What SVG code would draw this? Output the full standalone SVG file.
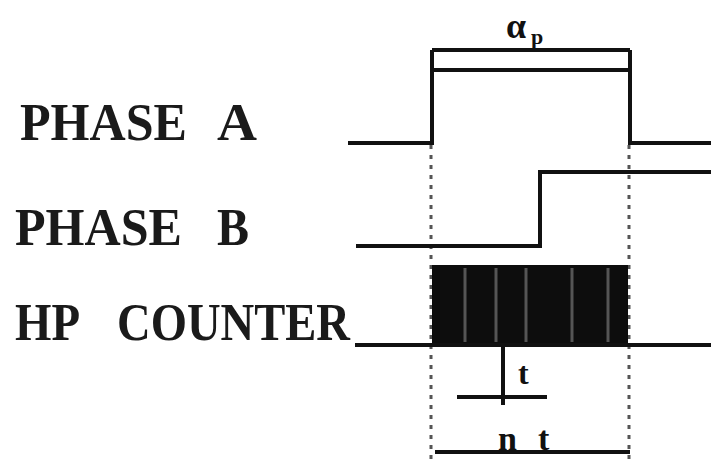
<svg xmlns="http://www.w3.org/2000/svg" width="711" height="464" viewBox="0 0 711 464">
<style>
.lbl{font-family:"Liberation Serif",serif;font-weight:bold;font-size:52px;fill:#1a1a1a}
.sig{fill:none;stroke:#111;stroke-width:4}
.dot{fill:none;stroke:#555;stroke-width:3;stroke-dasharray:4 6}
.sm{font-family:"Liberation Serif",serif;font-weight:bold;fill:#111}
</style>
<rect width="711" height="464" fill="#fff"/>
<g id="label-a"><text class="lbl" x="20" y="140" textLength="167" lengthAdjust="spacingAndGlyphs">PHASE</text><text class="lbl" x="217" y="140" textLength="40" lengthAdjust="spacingAndGlyphs">A</text></g>
<g id="label-b"><text class="lbl" x="15" y="245" textLength="167" lengthAdjust="spacingAndGlyphs">PHASE</text><text class="lbl" x="217" y="245" textLength="32" lengthAdjust="spacingAndGlyphs">B</text></g>
<g id="label-hp"><text class="lbl" x="15" y="340" textLength="65" lengthAdjust="spacingAndGlyphs">HP</text><text class="lbl" x="117" y="340" textLength="233" lengthAdjust="spacingAndGlyphs">COUNTER</text></g>
<g id="connectors">
<path class="dot" d="M431 145V460M629 145V460"/>
<path class="sig" d="M348 143H432V70H630V143H711"/>
<path class="sig" d="M432 50H630M432 50V70M630 50V70"/>
<path class="sig" d="M356 246H540V172H711"/>
<rect x="432" y="265" width="196" height="80" fill="#0d0d0d"/>
<path d="M465 268V342M496 268V342M526 268V342M572 268V342M608 268V342" stroke="#555" stroke-width="3"/>
<path class="sig" d="M355 345H711"/>
<path class="sig" d="M503 347V405M457 397H547" stroke-width="3"/>
<path class="sig" d="M435 452H630"/>
</g>
<g id="dim-labels">
<text class="sm" x="506" y="38" font-size="36">α</text>
<text class="sm" x="531" y="44" font-size="22">p</text>
<text class="sm" x="518" y="384" font-size="32">t</text>
<text class="sm" x="498" y="450" font-size="34">n</text>
<text class="sm" x="538" y="450" font-size="34">t</text>
</g>
</svg>
